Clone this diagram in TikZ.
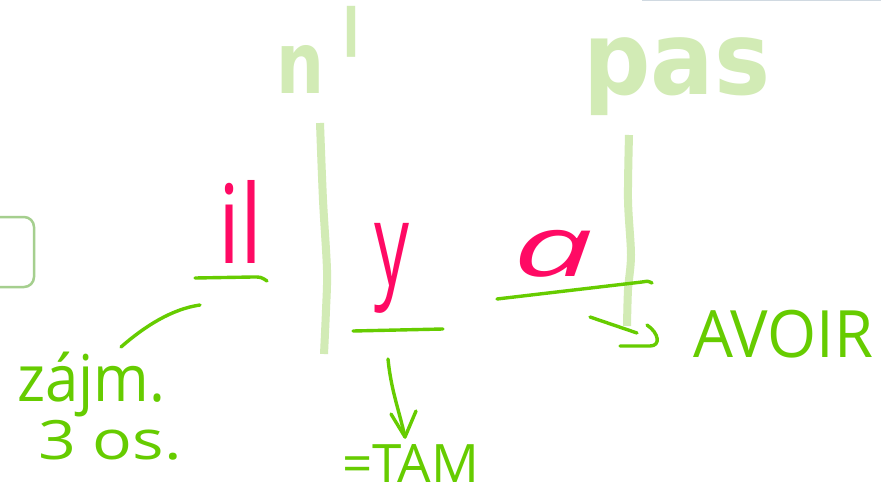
\documentclass[tikz,border=0pt]{standalone}
\usepackage{graphicx}
\usepackage{fontspec}
\setmainfont{Open Sans}
\newfontfamily\chunky{DejaVu Sans}
\definecolor{hand}{HTML}{66CC00}
\definecolor{pinkink}{HTML}{FF0A64}
\definecolor{pale}{HTML}{D2EBB5}
\definecolor{framegreen}{HTML}{A5CF8E}
\definecolor{rulegray}{HTML}{D0D9E1}
\newcommand{\fitto}[3]{\resizebox*{#1pt}{#2pt}{#3}}
\tikzset{
  txt/.style={anchor=north west, inner sep=0pt, outer sep=0pt},
  stroke/.style={hand, line width=3.4pt, line cap=round, line join=round},
  sep/.style={pale, line width=8pt, line cap=butt},
}
\begin{document}
\begin{tikzpicture}[x=1pt,y=-1pt]
\useasboundingbox (0,0) rectangle (881,495);
\clip (0,0) rectangle (881,495);
\fill[white] (0,0) rectangle (881,495);

% top rule and partial frame
\draw[rulegray, line width=2pt] (642,0.5) -- (881,0.5);
\draw[framegreen, line width=2.5pt, rounded corners=10pt] (-20,217) rectangle (34,287);

% pale separators
\draw[sep] plot[smooth] coordinates {(320,123) (323,200) (327,270) (326,310) (324,354)};
\draw[sep] plot[smooth] coordinates {(629,135) (628,200) (631,255) (628,290) (627,326)};

% pale words
\node[txt, pale] (napos) at (276,6) {\fitto{48}{48}{\chunky\bfseries n}\kern16pt\raisebox{-50pt}{\fitto{22}{137}{\chunky\bfseries '}}};
\node[txt, pale] (pas) at (583,38) {\fitto{187}{78}{\chunky\bfseries pas}};

% pink words
\node[txt, pinkink] (il) at (218,180) {\fitto{44}{83}{il}};
\node[txt, pinkink] (y) at (374,223) {\fitto{35}{90}{y}};
\node[txt, pinkink] (a) at (513,230) {\fitto{80}{47}{\itshape a}};

% green notes
\node[txt, hand] (zajm) at (17,352) {\fitto{148}{65}{zájm.}};
\node[txt, hand] (os) at (38,420) {\fitto{144}{40}{3 os.}};
\node[hand, anchor=base west, inner sep=0pt, outer sep=0pt] (tam) at (342,482) {\fontsize{53}{53}\selectfont =TAM};
\node[txt, hand] (avoir) at (693,310) {\fitto{180}{48}{AVOIR}};

% underlines
\draw[stroke] (195,278) -- (253,277) .. controls (261,277) .. (267,281);
\draw[stroke] (353,331) -- (443,329);
\draw[stroke] (497,299) -- (642,282) .. controls (648,281) .. (652,283);

% connectors
\coordinate (ilEnd) at (200,305);
\coordinate (zaEnd) at (121,347);
\draw[stroke] (ilEnd) .. controls (172,309) and (145,326) .. (zaEnd);

\coordinate (yEnd) at (388,359);
\coordinate (tamEnd) at (405,437);
\draw[stroke] (yEnd) .. controls (391,390) and (399,410) .. (tamEnd);
\draw[stroke] (391,414) -- (tamEnd) -- (416,411);

\coordinate (aEnd) at (590,317);
\coordinate (avEnd) at (637,333);
\draw[stroke] (aEnd) -- (avEnd);
\draw[stroke] (620,346) -- (650,346) .. controls (661,346) and (659,333) .. (647,325);
\end{tikzpicture}
\end{document}
